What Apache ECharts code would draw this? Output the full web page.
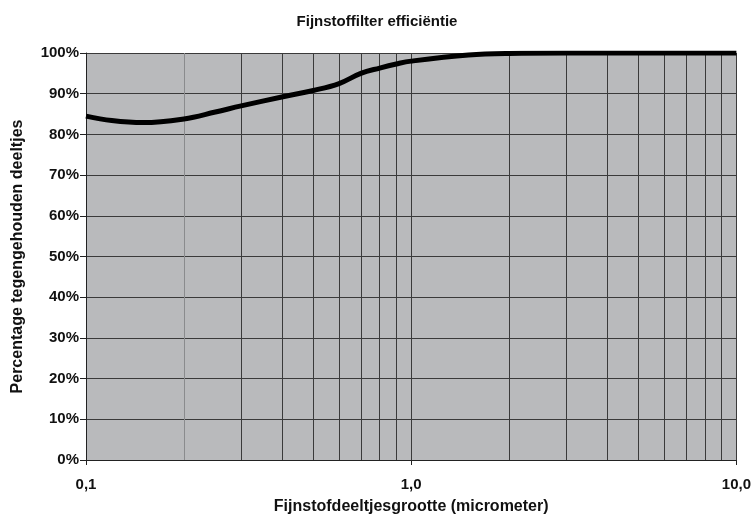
<!DOCTYPE html>
<html><head><meta charset="utf-8">
<script src="https://cdn.jsdelivr.net/npm/echarts@6/dist/echarts.min.js"></script>
<style>html,body{margin:0;padding:0;background:#fff}#c{width:754px;height:520px}</style>
</head><body><div id="c"></div>
<script>
const particleSize = [0.1, 0.12, 0.15, 0.2, 0.25, 0.3, 0.4, 0.5, 0.6, 0.7, 0.8, 0.9, 1.0, 1.5, 2.0, 3.0, 5.0, 10.0];
const efficiency   = [84.5, 83.4, 82.9, 83.8, 85.5, 87.0, 89.2, 90.8, 92.5, 95.0, 96.3, 97.3, 98.0, 99.5, 99.9, 100, 100, 100];
const minorGridX   = [0.3, 0.4, 0.5, 0.6, 0.7, 0.8, 0.9, 2, 3, 4, 5, 6, 7, 8, 9];
const lightGridX   = [0.2];

const chart = echarts.init(document.getElementById('c'));
const font = 'Liberation Sans, Arial, sans-serif';
chart.setOption({
  animation: false,
  title: {
    text: 'Fijnstoffilter efficiëntie', left: 'center', top: 9,
    textStyle: { fontFamily: font, fontSize: 15, fontWeight: 'bold', color: '#111' }
  },
  grid: { left: 86, right: 17, top: 53, bottom: 60, show: true, backgroundColor: '#b9babc', borderWidth: 0 },
  xAxis: {
    type: 'log', logBase: 10, min: 0.1, max: 10,
    name: 'Fijnstofdeeltjesgrootte (micrometer)', nameLocation: 'middle', nameGap: 39,
    nameTextStyle: { fontFamily: font, fontSize: 16, fontWeight: 'bold', color: '#111' },
    axisLine: { show: true, lineStyle: { color: '#222', width: 1 } },
    axisTick: { show: true, length: 5, lineStyle: { color: '#222' } },
    axisLabel: { fontFamily: font, fontSize: 15, fontWeight: 'bold', color: '#111', margin: 17,
      formatter: v => v.toFixed(1).replace('.', ',') },
    splitLine: { show: true, lineStyle: { color: '#3a3a3a', width: 1 } },
    minorTick: { show: false }, minorSplitLine: { show: false }
  },
  yAxis: {
    type: 'value', min: 0, max: 100, interval: 10,
    name: 'Percentage tegengehouden deeltjes', nameLocation: 'middle', nameGap: 60, nameRotate: 90,
    nameTextStyle: { fontFamily: font, fontSize: 16, fontWeight: 'bold', color: '#111' },
    axisLine: { show: true, lineStyle: { color: '#222', width: 1 } },
    axisTick: { show: true, length: 6, lineStyle: { color: '#222' } },
    axisLabel: { fontFamily: font, fontSize: 15, fontWeight: 'bold', color: '#111', margin: 7, formatter: '{value}%' },
    splitLine: { show: true, lineStyle: { color: '#3a3a3a', width: 1 } }
  },
  series: [{
    type: 'line', smooth: 0.4, showSymbol: false, symbol: 'none',
    data: particleSize.map((x, i) => [x, efficiency[i]]),
    lineStyle: { color: '#000', width: 5 },
    z: 5,
    markLine: {
      silent: true, symbol: 'none', label: { show: false },
      data: minorGridX.map(v => ({ xAxis: v, lineStyle: { color: '#3a3a3a', width: 1, type: 'solid' } }))
        .concat(lightGridX.map(v => ({ xAxis: v, lineStyle: { color: '#8a8b8d', width: 1, type: 'solid' } })))
    }
  }]
});
</script></body></html>
